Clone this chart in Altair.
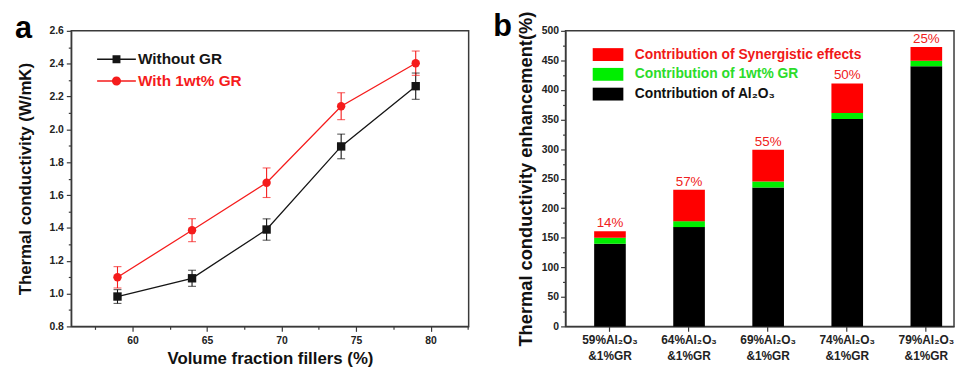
import altair as alt
import pandas as pd

FONT = "Liberation Sans"

# ---------------- panel a data ----------------
volume_fraction = [59, 64, 69, 74, 79]
without_gr = [0.982, 1.093, 1.39, 1.896, 2.263]
without_gr_err = [0.042, 0.049, 0.065, 0.075, 0.08]
with_gr = [1.099, 1.386, 1.675, 2.141, 2.403]
with_gr_err = [0.065, 0.07, 0.09, 0.082, 0.074]
series_names = ["Without GR", "With 1wt% GR"]
series_colors = ["#151515", "#f51c1c"]
x_ticks_a = [57.5, 60, 62.5, 65, 67.5, 70, 72.5, 75, 77.5, 80, 82.5]
y_ticks_a = [0.8, 0.9, 1.0, 1.1, 1.2, 1.3, 1.4, 1.5, 1.6, 1.7, 1.8, 1.9,
             2.0, 2.1, 2.2, 2.3, 2.4, 2.5, 2.6]

# ---------------- panel b data ----------------
categories = ["59%Al₂O₃\n&1%GR", "64%Al₂O₃\n&1%GR", "69%Al₂O₃\n&1%GR",
              "74%Al₂O₃\n&1%GR", "79%Al₂O₃\n&1%GR"]
al2o3_part = [140, 168, 235, 351, 440]
gr_part = [10, 10, 10, 10, 9.5]
synergy_part = [11, 53, 54, 50, 23]
synergy_labels = ["14%", "57%", "55%", "50%", "25%"]
components = ["Contribution of Synergistic effects", "Contribution of 1wt% GR",
              "Contribution of Al₂O₃"]
component_colors = ["#ff0000", "#00ee00", "#000000"]
y_ticks_b = [0, 25, 50, 75, 100, 125, 150, 175, 200, 225, 250, 275, 300,
             325, 350, 375, 400, 425, 450, 475, 500]

# ---------------- tables ----------------
rows = []
for name, vals, errs in zip(series_names, [without_gr, with_gr], [without_gr_err, with_gr_err]):
    for xv, v, e in zip(volume_fraction, vals, errs):
        rows.append({"x": xv, "y": v, "lo": v - e, "hi": v + e, "series": name})
df_a = pd.DataFrame(rows)

rows_b = []
for i, cat in enumerate(categories):
    rows_b.append({"category": cat, "component": components[2], "value": al2o3_part[i], "stack_order": 0})
    rows_b.append({"category": cat, "component": components[1], "value": gr_part[i], "stack_order": 1})
    rows_b.append({"category": cat, "component": components[0], "value": synergy_part[i], "stack_order": 2})
df_b = pd.DataFrame(rows_b)
df_tot = pd.DataFrame({
    "category": categories,
    "total": [a + g + s for a, g, s in zip(al2o3_part, gr_part, synergy_part)],
    "pct": synergy_labels,
})

# ---------------- panel a ----------------
cscale = alt.Scale(domain=series_names, range=series_colors)
xa = alt.X("x:Q", scale=alt.Scale(domain=[55.9, 82.55], nice=False, zero=False),
           axis=alt.Axis(values=x_ticks_a, labelOverlap=False, tickCount=100,
                         labelExpr="datum.value % 5 == 0 ? format(datum.value, 'd') : ''",
                         tickSize={"condition": {"test": "datum.value % 5 == 0", "value": 5}, "value": 3},
                         title="Volume fraction fillers (%)", titleFontSize=17,
                         labelFontSize=10.5, labelPadding=4, titlePadding=5))
ya = alt.Y("y:Q", scale=alt.Scale(domain=[0.8, 2.6], nice=False, zero=False),
           axis=alt.Axis(values=y_ticks_a, labelOverlap=False, tickCount=100,
                         labelExpr="round(datum.value*10) % 2 == 0 ? format(datum.value, '.1f') : ''",
                         tickSize={"condition": {"test": "round(datum.value*10) % 2 == 0", "value": 5}, "value": 3},
                         title="Thermal conductivity (W/mK)", titleFontSize=17,
                         labelFontSize=10.5, labelPadding=3, titlePadding=15))
col_nl = alt.Color("series:N", scale=cscale, legend=None)

base = alt.Chart(df_a)
line_a = base.mark_line(strokeWidth=1.3).encode(x=xa, y=ya, color=col_nl)
err_a = base.mark_rule(strokeWidth=1.1).encode(x="x:Q", y="lo:Q", y2="hi:Q", color=col_nl)
cap_lo = base.mark_tick(orient="horizontal", size=8, thickness=1.1).encode(x="x:Q", y="lo:Q", color=col_nl)
cap_hi = base.mark_tick(orient="horizontal", size=8, thickness=1.1).encode(x="x:Q", y="hi:Q", color=col_nl)
pts_a = base.mark_point(filled=True, opacity=1, size=72).encode(
    x="x:Q", y="y:Q", color=col_nl,
    shape=alt.Shape("series:N", scale=alt.Scale(domain=series_names, range=["square", "circle"]), legend=None))

path_sq = "M-4.9,-0.17H4.9V0.17H-4.9Z M-1,-1H1V1H-1Z"
path_ci = "M-4.9,-0.17H4.9V0.17H-4.9Z M1.15,0A1.15,1.15 0 1,1 -1.15,0A1.15,1.15 0 1,1 1.15,0Z"
leg_a_props = dict(title=None, orient="none", legendX=38, legendY=21,
                   labelFont=FONT, labelFontSize=15.5, labelFontWeight="bold",
                   labelColor={"expr": "datum.value == 'Without GR' ? '#151515' : '#f51c1c'"},
                   symbolSize=64, symbolOpacity=1, labelOffset=14, rowPadding=5, labelLimit=400)
leg_a = base.mark_point(filled=True, opacity=0, size=64).encode(
    x="x:Q", y="y:Q",
    color=alt.Color("series:N", scale=cscale, legend=alt.Legend(**leg_a_props)),
    shape=alt.Shape("series:N", scale=alt.Scale(domain=series_names, range=[path_sq, path_ci]),
                    legend=alt.Legend(**leg_a_props)))

letter_a = alt.Chart(pd.DataFrame({"panel": ["a"]})).mark_text(
    font=FONT, fontSize=31, fontWeight="bold", align="left", baseline="alphabetic", color="#000"
).encode(text="panel:N", x=alt.value(-57), y=alt.value(7))

panel_a = alt.layer(line_a, err_a, cap_lo, cap_hi, pts_a, leg_a, letter_a).resolve_scale(
    color="independent", shape="independent").properties(width=402, height=299)

# ---------------- panel b ----------------
xb_scale = alt.Scale(domain=categories, paddingInner=0.6, paddingOuter=0.256, align=0.707)
xb = alt.X("category:N", scale=xb_scale, sort=categories,
           axis=alt.Axis(title=None, labelAngle=0, labelExpr="split(datum.label, '\\n')",
                         labelFontSize=12, labelLineHeight=17, tickSize=5, labelPadding=3))
yb = alt.Y("value:Q", stack="zero", scale=alt.Scale(domain=[0, 500], nice=False),
           axis=alt.Axis(values=y_ticks_b, labelOverlap=False, tickCount=100,
                         labelExpr="datum.value % 50 == 0 ? datum.label : ''",
                         tickSize={"condition": {"test": "datum.value % 50 == 0", "value": 5}, "value": 3},
                         title="Thermal conductivity enhancement(%)", titleFontSize=18.5,
                         labelFontSize=10.5, labelPadding=2, titlePadding=6))
leg_b = alt.Legend(title=None, orient="none", legendX=36, legendY=17,
                   labelFont=FONT, labelFontSize=14, labelFontWeight="bold", labelLimit=500,
                   labelColor={"expr": "datum.value == 'Contribution of Synergistic effects' ? '#f01818' : datum.value == 'Contribution of 1wt% GR' ? '#2bdc2b' : '#111111'"},
                   symbolType="M-2.385,-1H2.385V1H-2.385Z", symbolSize=169, symbolOpacity=1,
                   symbolStrokeWidth=0, labelOffset=20, rowPadding=6)
bars = alt.Chart(df_b).mark_bar().encode(
    x=xb, y=yb,
    color=alt.Color("component:N", scale=alt.Scale(domain=components, range=component_colors), legend=leg_b),
    order=alt.Order("stack_order:Q", sort="ascending"))
pct = alt.Chart(df_tot).mark_text(font=FONT, fontSize=13.5, color="#f02020", baseline="alphabetic", dy=-4).encode(
    x=alt.X("category:N", scale=xb_scale, sort=categories), y=alt.Y("total:Q"), text="pct:N")
letter_b = alt.Chart(pd.DataFrame({"panel": ["b"]})).mark_text(
    font=FONT, fontSize=31, fontWeight="bold", align="left", baseline="alphabetic", color="#000"
).encode(text="panel:N", x=alt.value(-73), y=alt.value(5))

panel_b = alt.layer(bars, pct, letter_b).properties(width=393, height=299)

chart = alt.hconcat(panel_a, panel_b, spacing=23).resolve_scale(
    x="independent", y="independent", color="independent", shape="independent"
).properties(padding={"left": 6, "top": 0, "right": 0, "bottom": 0}).configure_view(
    stroke="#3a3a3a", strokeWidth=1.5
).configure_axis(
    labelFont=FONT, titleFont=FONT, labelFontWeight="bold", titleFontWeight="bold",
    domainColor="#3a3a3a", tickColor="#3a3a3a", labelColor="#222222", titleColor="#111111",
    grid=False, domainWidth=1.2, tickWidth=1.2
)

chart.save("out.html", embed_options={"renderer": "svg", "actions": False})
